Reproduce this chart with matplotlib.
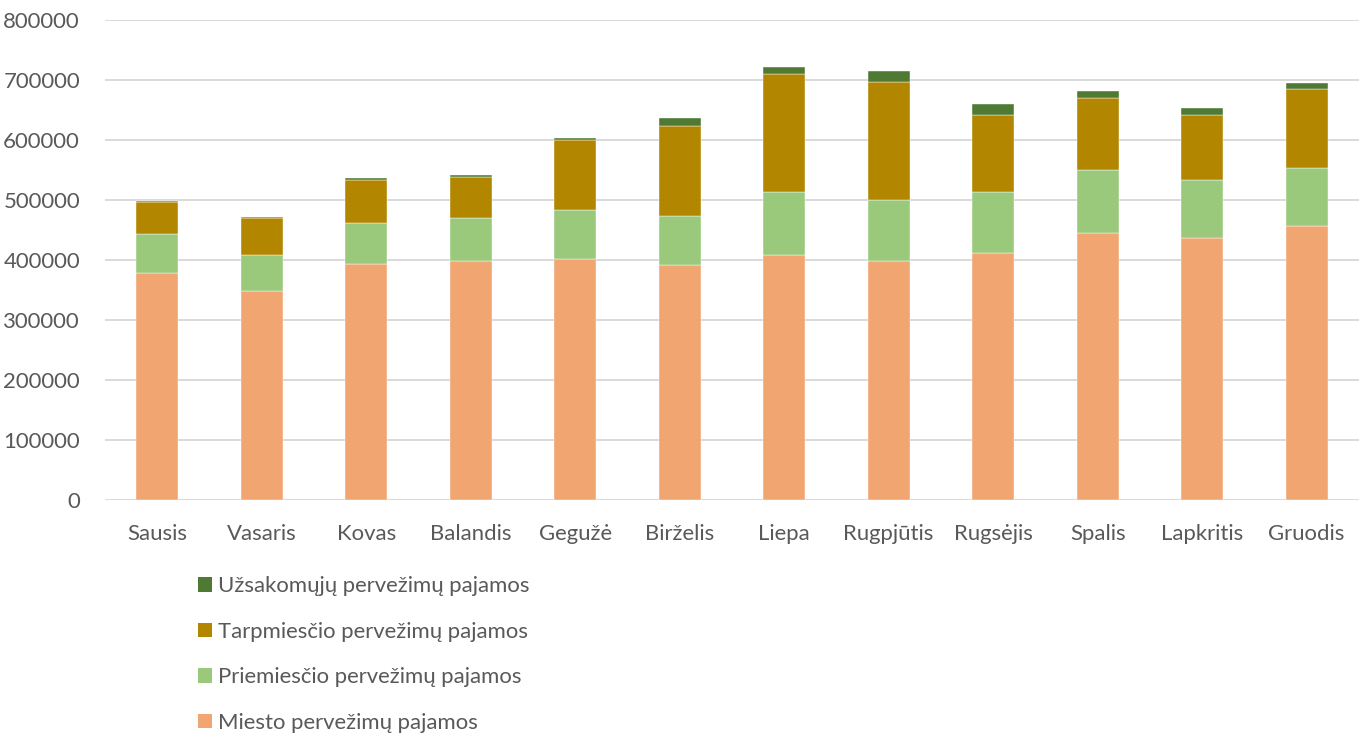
import matplotlib
matplotlib.use("Agg")
import numpy as np
import matplotlib.pyplot as plt
from matplotlib.patches import Patch

months = ["Sausis", "Vasaris", "Kovas", "Balandis", "Gegužė", "Birželis",
          "Liepa", "Rugpjūtis", "Rugsėjis", "Spalis", "Lapkritis", "Gruodis"]

# revenue by type, per month
miesto = [378900, 348300, 393900, 397800, 401100, 391100,
          408900, 398900, 412200, 445600, 436700, 456100]
priemiescio = [64400, 60000, 67800, 72800, 81700, 82800,
               104400, 101700, 101100, 105000, 96700, 97800]
tarpmiescio = [53900, 62200, 71700, 67800, 117200, 149400,
               197200, 195600, 127800, 120000, 108900, 130600]
uzsakomuju = [1000, 1700, 3300, 3300, 3300, 13900,
              11100, 18300, 18900, 11700, 10600, 11100]

series_names = ["Miesto pervežimų pajamos", "Priemiesčio pervežimų pajamos",
                "Tarpmiesčio pervežimų pajamos", "Užsakomųjų pervežimų pajamos"]
colors = ["#F1A571", "#9BC97C", "#B38600", "#4E7A33"]

plt.rcParams["font.family"] = ["Lato", "DejaVu Sans"]
text_color = "#595959"
fs = 15.9

fig = plt.figure(figsize=(13.63, 7.33), dpi=100)
ax = fig.add_axes([0.077, 0.3179, 0.920, 0.6548])

x = np.arange(len(months))
bottom = np.zeros(len(months))
for vals, col in zip([miesto, priemiescio, tarpmiescio, uzsakomuju], colors):
    ax.bar(x, vals, width=0.40, bottom=bottom, color=col, zorder=3,
           edgecolor="white", linewidth=0.3)
    bottom += np.array(vals)

ax.set_xlim(-0.5, len(months) - 0.5)
ax.set_ylim(0, 800000)
ax.set_yticks(np.arange(0, 800001, 100000))
ax.set_yticklabels([str(v) for v in range(0, 800001, 100000)])
ax.set_xticks(x)
ax.set_xticklabels(months)
ax.grid(axis="y", color="#D9D9D9", linewidth=1.4, zorder=0)
for s in ax.spines.values():
    s.set_visible(False)
ax.tick_params(axis="both", length=0, labelsize=fs, colors=text_color)
ax.tick_params(axis="y", pad=18)
ax.tick_params(axis="x", pad=17)

handles = [Patch(facecolor=c, label=n) for c, n in zip(colors, series_names)][::-1]
leg = fig.legend(handles=handles, loc="upper left", bbox_to_anchor=(0.1375, 0.229),
                 frameon=False, fontsize=fs, handlelength=0.62, handleheight=0.62,
                 handletextpad=0.25, labelspacing=1.16, borderpad=0)
for t in leg.get_texts():
    t.set_color(text_color)

fig.savefig("out.png", dpi=100)
